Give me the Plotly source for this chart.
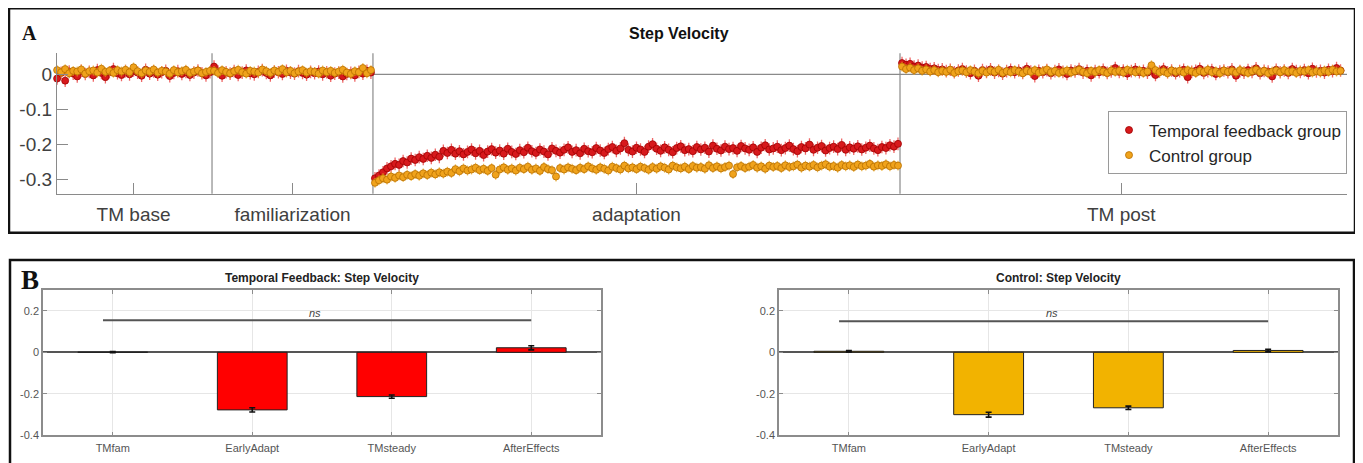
import plotly.graph_objects as go

# page body has an 8px margin; the photographed page is also squeezed vertically by ~1.6%
OFF = 8
SY = 0.984
W, H = 1363 - OFF, 463

# ---------------- Panel A data (stride-by-stride step velocity) ----------------
segment_labels = ["TM base", "familiarization", "adaptation", "TM post"]
group_names = ["Temporal feedback group", "Control group"]
a_ytick_vals = [0, -0.1, -0.2, -0.3]
a_ytick_text = ["0", "-0.1", "-0.2", "-0.3"]

tf_base = [-0.012, 0.004, -0.018, 0.008, 0.002, -0.006, 0.010, 0.001, 0.007, -0.003,
           0.012, 0.004, -0.008, 0.006, 0.015, 0.003, -0.002, 0.009, 0.000, 0.011,
           0.005, -0.004, 0.013, 0.002, 0.008, -0.001, 0.006, 0.010, -0.005, 0.004,
           0.009, 0.001, 0.007, -0.002, 0.005, 0.011, 0.003, -0.003, 0.006]
tf_fam = [0.022, 0.008, -0.004, 0.006, 0.002, 0.009, -0.002, 0.005, 0.011, 0.003,
          0.000, 0.007, 0.012, 0.004, -0.003, 0.008, 0.006, 0.001, 0.010, 0.005,
          0.002, 0.009, 0.004, -0.001, 0.007, 0.003, 0.008, 0.000, 0.006, -0.004,
          0.002, 0.005, -0.006, 0.001, 0.004, -0.003, 0.007, 0.002, 0.010, 0.005]
tf_adapt = [-0.296, -0.288, -0.279, -0.268, -0.262, -0.255, -0.258, -0.247, -0.251, -0.240,
            -0.244, -0.236, -0.241, -0.232, -0.238, -0.229, -0.235, -0.218, -0.224, -0.215,
            -0.226, -0.219, -0.228, -0.221, -0.214, -0.225, -0.218, -0.230, -0.220, -0.213,
            -0.223, -0.217, -0.226, -0.212, -0.221, -0.227, -0.216, -0.222, -0.209, -0.219,
            -0.224, -0.214, -0.220, -0.228, -0.211, -0.218, -0.223, -0.215, -0.208, -0.221,
            -0.216, -0.225, -0.212, -0.219, -0.222, -0.210, -0.217, -0.224, -0.213, -0.207,
            -0.218, -0.211, -0.196, -0.215, -0.220, -0.209, -0.214, -0.221, -0.206, -0.199,
            -0.212, -0.218, -0.208, -0.215, -0.222, -0.210, -0.205, -0.216, -0.213, -0.219,
            -0.207, -0.214, -0.209, -0.220, -0.203, -0.212, -0.217, -0.206, -0.213, -0.210,
            -0.218, -0.204, -0.211, -0.215, -0.208, -0.221, -0.209, -0.202, -0.214, -0.211,
            -0.206, -0.216, -0.210, -0.203, -0.213, -0.219, -0.207, -0.211, -0.200, -0.215,
            -0.209, -0.204, -0.217, -0.210, -0.206, -0.213, -0.201, -0.215, -0.208, -0.212,
            -0.205, -0.214, -0.209, -0.203, -0.211, -0.216, -0.207, -0.210, -0.202, -0.206, -0.198]
tf_post = [0.032, 0.027, 0.030, 0.022, 0.025, 0.019, 0.021, 0.015, 0.017, 0.012,
           0.014, 0.009, 0.013, 0.006, 0.011, 0.015, 0.008, 0.003, 0.010, -0.004,
           0.012, 0.007, 0.014, 0.005, 0.010, 0.002, 0.009, 0.013, 0.006, 0.011,
           0.004, 0.016, 0.008, -0.005, 0.010, 0.006, 0.012, 0.003, 0.009, 0.014,
           0.007, 0.001, 0.011, 0.008, 0.015, 0.005, 0.010, -0.003, 0.009, 0.006,
           0.013, 0.004, 0.008, 0.018, 0.007, 0.011, 0.002, 0.009, 0.014, 0.006,
           0.010, 0.005, 0.012, -0.002, 0.008, 0.015, 0.006, 0.011, 0.003, 0.009,
           0.013, -0.008, 0.007, 0.010, 0.016, 0.004, 0.009, 0.012, 0.001, 0.008,
           0.011, 0.006, 0.014, -0.004, 0.009, 0.005, 0.012, 0.007, 0.017, 0.003,
           0.010, 0.008, -0.006, 0.013, 0.006, 0.011, 0.004, 0.015, 0.009, 0.007,
           0.012, 0.003, 0.016, 0.008, 0.010, 0.005, 0.013, 0.009, 0.018, 0.011]

ctl_base = [0.012, 0.006, 0.015, 0.003, 0.010, 0.008, 0.014, 0.002, 0.009, 0.011,
            0.005, 0.016, 0.007, 0.010, 0.004, 0.012, 0.008, 0.013, 0.006, 0.020,
            0.009, 0.003, 0.011, 0.007, 0.014, 0.005, 0.010, 0.008, 0.002, 0.012,
            0.006, 0.009, 0.013, 0.004, 0.008, 0.011, 0.003, 0.007, 0.010]
ctl_fam = [0.010, 0.004, 0.012, 0.007, 0.003, 0.009, 0.013, 0.006, 0.002, 0.010,
           0.008, 0.005, 0.014, 0.009, 0.004, 0.011, 0.007, 0.015, 0.006, 0.010,
           0.003, 0.008, 0.012, 0.005, 0.009, 0.007, 0.002, 0.011, 0.006, 0.010,
           0.004, 0.008, 0.013, 0.005, 0.001, 0.009, 0.006, 0.018, 0.003, 0.012]
ctl_adapt = [-0.309, -0.302, -0.296, -0.300, -0.291, -0.295, -0.288, -0.293, -0.286, -0.290,
             -0.284, -0.289, -0.282, -0.287, -0.280, -0.285, -0.279, -0.283, -0.277, -0.281,
             -0.270, -0.276, -0.268, -0.274, -0.271, -0.266, -0.273, -0.269, -0.275, -0.267,
             -0.286, -0.271, -0.265, -0.272, -0.268, -0.274, -0.266, -0.270, -0.263, -0.272,
             -0.268, -0.275, -0.264, -0.270, -0.273, -0.291, -0.267, -0.271, -0.265, -0.269,
             -0.273, -0.266, -0.270, -0.262, -0.268, -0.272, -0.265, -0.269, -0.274, -0.263,
             -0.267, -0.271, -0.260, -0.268, -0.265, -0.270, -0.263, -0.267, -0.272, -0.264,
             -0.269, -0.262, -0.266, -0.271, -0.260, -0.265, -0.268, -0.263, -0.270, -0.261,
             -0.266, -0.264, -0.269, -0.259, -0.267, -0.262, -0.268, -0.264, -0.260, -0.284,
             -0.265, -0.261, -0.267, -0.263, -0.258, -0.266, -0.262, -0.269, -0.260, -0.264,
             -0.261, -0.267, -0.259, -0.264, -0.262, -0.257, -0.266, -0.260, -0.263, -0.258,
             -0.265, -0.260, -0.256, -0.263, -0.261, -0.266, -0.258, -0.262, -0.259, -0.264,
             -0.257, -0.262, -0.260, -0.255, -0.263, -0.259, -0.261, -0.256, -0.262, -0.258, -0.260]
ctl_post = [0.022, 0.015, 0.019, 0.012, 0.017, 0.010, 0.014, 0.008, 0.012, 0.006,
            0.010, 0.007, 0.013, 0.004, 0.009, 0.011, 0.006, 0.012, 0.008, 0.003,
            0.010, 0.005, 0.011, 0.007, 0.013, 0.004, 0.009, 0.006, 0.012, 0.008,
            0.003, 0.010, 0.007, 0.012, 0.005, 0.009, 0.014, 0.006, 0.010, 0.004,
            0.008, 0.011, 0.005, 0.009, 0.013, 0.007, 0.003, 0.010, 0.006, 0.012,
            0.008, 0.004, 0.011, 0.007, 0.010, 0.005, 0.013, 0.009, 0.006, 0.011,
            0.004, 0.008, 0.026, 0.012, 0.006, 0.009, 0.003, 0.011, 0.007, 0.010,
            0.005, 0.012, 0.008, 0.004, 0.010, 0.007, 0.013, 0.006, 0.009, 0.003,
            0.011, 0.007, 0.010, 0.005, 0.012, 0.008, 0.004, 0.009, 0.013, 0.006,
            0.010, 0.003, 0.008, 0.011, 0.006, 0.012, 0.007, 0.009, 0.004, 0.010,
            0.008, 0.012, 0.005, 0.009, 0.006, 0.011, 0.007, 0.013, 0.008, 0.010]

# ---------------- Panel B data (epoch means) ----------------
bar_categories = ["TMfam", "EarlyAdapt", "TMsteady", "AfterEffects"]
b_ytick_vals = [0.2, 0, -0.2, -0.4]
b_ytick_text = ["0.2", "0", "-0.2", "-0.4"]
tf_bar = [0.001, -0.277, -0.213, 0.022]
tf_bar_err = [0.003, 0.010, 0.008, 0.010]
ctl_bar = [0.005, -0.300, -0.267, 0.009]
ctl_bar_err = [0.003, 0.012, 0.008, 0.006]
ns_level = [0.155, 0.150]
bar_titles = ["Temporal Feedback: Step Velocity", "Control: Step Velocity"]

# ---------------- helpers (target pixel -> paper fraction) ----------------
def fx(p):
    return (p - OFF) / W

def fy(p):
    return 1 - (p / SY - OFF) / H

FONT = "Liberation Sans, Arial, Helvetica, sans-serif"
SERIF = "Liberation Serif, Times New Roman, serif"

tf_all = tf_base + tf_fam + tf_adapt + tf_post
ctl_all = ctl_base + ctl_fam + ctl_adapt + ctl_post
counts = [len(tf_base), len(tf_fam), len(tf_adapt), len(tf_post)]
n_total = sum(counts)
x_idx = list(range(1, n_total + 1))
starts, s = [], 1
for c in counts:
    starts.append(s)
    s += c
seg_centers = [st + (c - 1) / 2 for st, c in zip(starts, counts)]
boundaries = [st - 0.5 for st in starts[1:]]

fig = go.Figure()

# Panel A scatter traces
fig.add_trace(go.Scatter(
    x=x_idx, y=tf_all, mode="markers", name=group_names[0],
    marker=dict(size=7, color="#d7191c", line=dict(color="#a00000", width=0.8)),
    error_y=dict(type="constant", value=0.018, thickness=1.3, width=0, color="rgba(232,40,40,0.7)"),
    cliponaxis=False, xaxis="x", yaxis="y"))
fig.add_trace(go.Scatter(
    x=x_idx, y=ctl_all, mode="markers", name=group_names[1],
    marker=dict(size=7, color="#f0a31c", line=dict(color="#b86e00", width=0.8)),
    error_y=dict(type="constant", value=0.014, thickness=1.3, width=0, color="rgba(240,170,30,0.7)"),
    cliponaxis=False, xaxis="x", yaxis="y"))

# Panel B bars
for i, (vals, errs, col, ax) in enumerate([(tf_bar, tf_bar_err, "#ff0000", "2"),
                                             (ctl_bar, ctl_bar_err, "#f2b300", "3")]):
    fig.add_trace(go.Bar(
        x=[1, 2, 3, 4], y=vals, width=0.5, showlegend=False,
        marker=dict(color=col, line=dict(color="#222222", width=1)),
        error_y=dict(type="data", array=errs, color="#111111", thickness=1.6, width=3),
        xaxis="x" + ax, yaxis="y" + ax))
    fig.add_trace(go.Scatter(
        x=[0.93, 4.0], y=[ns_level[i], ns_level[i]], mode="lines", showlegend=False,
        line=dict(color="#555555", width=2), xaxis="x" + ax, yaxis="y" + ax))

axis_gray = "#8a8a8a"

fig.update_layout(
    width=W, height=H, autosize=False,
    margin=dict(l=0, r=0, t=0, b=0, pad=0),
    paper_bgcolor="white", plot_bgcolor="white",
    font=dict(family=FONT, color="#333333"),
    showlegend=True,
    legend=dict(x=fx(1347), y=fy(111), xanchor="right", yanchor="top",
                bgcolor="white", bordercolor="#9a9a9a", borderwidth=1,
                font=dict(size=17, color="#262626", family=FONT),
                itemsizing="trace", itemwidth=30, tracegroupgap=0),
    xaxis=dict(domain=[fx(57), fx(1347)], range=[0.97, n_total + 1.6],
               showgrid=False, zeroline=False, showline=True, linecolor=axis_gray, linewidth=1.2,
               ticks="inside", ticklen=11, tickcolor=axis_gray, tickwidth=1.2,
               tickvals=seg_centers, ticktext=segment_labels, ticklabelstandoff=3,
               tickfont=dict(size=19, color="#404040"), anchor="y"),
    yaxis=dict(domain=[fy(193), fy(53)], range=[-0.34, 0.06],
               showgrid=False, zeroline=False, showline=True, linecolor=axis_gray, linewidth=1.2,
               ticks="inside", ticklen=11, tickcolor=axis_gray, tickwidth=1.2,
               tickvals=a_ytick_vals, ticktext=a_ytick_text,
               tickfont=dict(size=19, color="#404040"), anchor="x"),
)

for ax, (l, r) in zip(["2", "3"], [(43, 601), (779, 1338)]):
    fig.update_layout(**{
        "xaxis" + ax: dict(domain=[fx(l), fx(r)], range=[0.5, 4.5], anchor="y" + ax,
                           tickvals=[1, 2, 3, 4], ticktext=bar_categories,
                           showgrid=True, gridcolor="#e6e6e6", gridwidth=1,
                           zeroline=False, showline=True, mirror="ticks",
                           linecolor="#8c8c8c", linewidth=1.5,
                           ticks="inside", ticklen=4, tickcolor="#8c8c8c",
                           ticklabelstandoff=2,
                           tickfont=dict(size=11, color="#555555")),
        "yaxis" + ax: dict(domain=[fy(434), fy(289)], range=[-0.4, 0.3], anchor="x" + ax,
                           tickvals=b_ytick_vals, ticktext=b_ytick_text,
                           showgrid=True, gridcolor="#e6e6e6", gridwidth=1,
                           zeroline=True, zerolinecolor="#555555", zerolinewidth=1.5,
                           showline=True, mirror="ticks",
                           linecolor="#8c8c8c", linewidth=1.5,
                           ticks="inside", ticklen=4, tickcolor="#8c8c8c",
                           tickfont=dict(size=11, color="#555555")),
    })

shapes = []
# panel borders
shapes.append(dict(type="rect", xref="paper", yref="paper", x0=fx(9), x1=fx(1355),
                   y0=fy(232), y1=fy(8), line=dict(color="#111111", width=2.5)))
shapes.append(dict(type="rect", xref="paper", yref="paper", x0=fx(10), x1=fx(1354),
                   y0=fy(490), y1=fy(259), line=dict(color="#111111", width=2.5)))
# zero line in panel A
shapes.append(dict(type="line", xref="x domain", yref="y", x0=0, x1=1, y0=0, y1=0,
                   line=dict(color=axis_gray, width=1.2), layer="below"))
# segment boundaries
for b in boundaries:
    shapes.append(dict(type="line", xref="x", yref="y domain", x0=b, x1=b, y0=0, y1=1,
                       line=dict(color=axis_gray, width=1.2), layer="below"))
fig.update_layout(shapes=shapes)

ann = []
ann.append(dict(text="<b>A</b>", x=fx(20), y=fy(33), xref="paper", yref="paper",
                xanchor="left", yanchor="middle", showarrow=False,
                font=dict(family=SERIF, size=20, color="#111111")))
ann.append(dict(text="<b>B</b>", x=fx(19), y=fy(279), xref="paper", yref="paper",
                xanchor="left", yanchor="middle", showarrow=False,
                font=dict(family=SERIF, size=27, color="#111111")))
ann.append(dict(text="<b>Step Velocity</b>", x=fx(679), y=fy(33), xref="paper", yref="paper",
                xanchor="center", yanchor="middle", showarrow=False,
                font=dict(family=FONT, size=16, color="#111111")))
for i, (ax, cx) in enumerate([("2", 322), ("3", 1058)]):
    ann.append(dict(text="<b>" + bar_titles[i] + "</b>", x=fx(cx), y=fy(277),
                    xref="paper", yref="paper", xanchor="center", yanchor="middle",
                    showarrow=False, font=dict(family=FONT, size=12, color="#222222")))
    ann.append(dict(text="<i>ns</i>", x=2.45, y=0.19, xref="x" + ax, yref="y" + ax,
                    xanchor="center", yanchor="middle", showarrow=False,
                    font=dict(family=FONT, size=11, color="#444444")))
fig.update_layout(annotations=ann)

fig.write_html("out.html")
